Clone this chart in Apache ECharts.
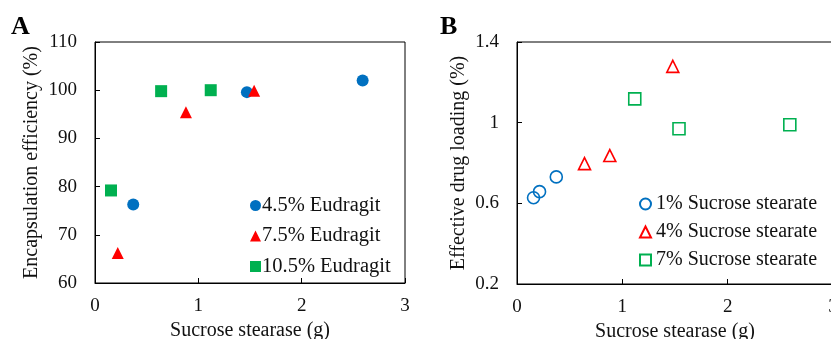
<!DOCTYPE html>
<html>
<head>
<meta charset="utf-8">
<script src="https://cdn.jsdelivr.net/npm/echarts@6/dist/echarts.min.js"></script>
<style>
html,body{margin:0;padding:0;background:#fff;}
#chart{width:831px;height:339px;}
</style>
</head>
<body>
<div id="chart"></div>
<script>
// Panel A: Encapsulation efficiency (%) vs sucrose stearase (g)
const seriesNamesA = ['4.5% Eudragit', '7.5% Eudragit', '10.5% Eudragit'];
const eud45 = [[0.37, 76.3], [1.47, 99.6], [2.59, 102.0]];
const eud75 = [[0.22, 66.2], [0.88, 95.4], [1.54, 99.9]];
const eud105 = [[0.155, 79.2], [0.64, 99.8], [1.12, 100.0]];

// Panel B: Effective drug loading (%) vs sucrose stearase (g)
const seriesNamesB = ['1% Sucrose stearate', '4% Sucrose stearate', '7% Sucrose stearate'];
const suc1 = [[0.157, 0.628], [0.214, 0.658], [0.373, 0.731]];
const suc4 = [[0.641, 0.797], [0.881, 0.837], [1.479, 1.279]];
const suc7 = [[1.118, 1.118], [1.538, 0.970], [2.59, 0.990]];

const xTitle = 'Sucrose stearase (g)';
const yTitleA = 'Encapsulation efficiency (%)';
const yTitleB = 'Effective drug loading (%)';

const BLUE = '#0070C0', RED = '#FF0000', GREEN = '#00B050';
const FONT = '"Liberation Serif", "Times New Roman", serif';
const TXT = '#111';

function xAxis(gridIndex) {
  return {
    type: 'value', gridIndex, min: 0, max: 3, interval: 1,
    name: xTitle, nameLocation: 'middle', nameGap: 33,
    nameTextStyle: {fontFamily: FONT, fontSize: 20, color: TXT},
    axisLine: {show: true, lineStyle: {color: '#000', width: 1}},
    axisTick: {show: true, inside: true, length: 5, lineStyle: {color: '#000'}},
    axisLabel: {fontFamily: FONT, fontSize: 19, color: TXT, margin: 14},
    splitLine: {show: false}
  };
}
function yAxis(gridIndex, min, max, interval, name, gap) {
  return {
    type: 'value', gridIndex, min, max, interval,
    name, nameLocation: 'middle', nameGap: gap,
    nameTextStyle: {fontFamily: FONT, fontSize: 20, color: TXT},
    axisLine: {show: true, lineStyle: {color: '#000', width: 1}},
    axisTick: {show: true, inside: true, length: 5, lineStyle: {color: '#000'}},
    axisLabel: {fontFamily: FONT, fontSize: 19, color: TXT, margin: 18},
    splitLine: {show: false}
  };
}

const chart = echarts.init(document.getElementById('chart'), null, {renderer: 'canvas'});
chart.setOption({
  backgroundColor: '#fff',
  animation: false,
  title: [
    {text: 'A', left: 11, top: 14, padding: 0, textStyle: {fontFamily: FONT, fontSize: 26, fontWeight: 'bold', color: '#000'}},
    {text: 'B', left: 440, top: 14, padding: 0, textStyle: {fontFamily: FONT, fontSize: 26, fontWeight: 'bold', color: '#000'}}
  ],
  grid: [
    {left: 95, top: 42, right: 426, bottom: 56, show: true, borderColor: '#000', borderWidth: 1, containLabel: false, outerBoundsMode: 'none'},
    {left: 517, top: 42, right: -2, bottom: 55, show: true, borderColor: '#000', borderWidth: 1, containLabel: false, outerBoundsMode: 'none'}
  ],
  xAxis: [xAxis(0), xAxis(1)],
  yAxis: [
    yAxis(0, 60, 110, 10, yTitleA, 53),
    yAxis(1, 0.2, 1.4, 0.4, yTitleB, 48)
  ],
  legend: [
    {
      data: seriesNamesA, orient: 'vertical', left: 245, top: 190, itemGap: 9.5,
      itemWidth: 11, itemHeight: 11,
      textStyle: {fontFamily: FONT, fontSize: 20.5, color: TXT, padding: [0, 0, 0, -4]}
    },
    {
      data: seriesNamesB, orient: 'vertical', left: 634, top: 189, itemGap: 8,
      itemWidth: 11, itemHeight: 11,
      textStyle: {fontFamily: FONT, fontSize: 20, color: TXT}
    }
  ],
  series: [
    {name: seriesNamesA[0], type: 'scatter', xAxisIndex: 0, yAxisIndex: 0, symbol: 'circle', symbolSize: 12, itemStyle: {color: BLUE, opacity: 1}, data: eud45},
    {name: seriesNamesA[1], type: 'scatter', xAxisIndex: 0, yAxisIndex: 0, symbol: 'triangle', symbolSize: 12, itemStyle: {color: RED, opacity: 1}, data: eud75},
    {name: seriesNamesA[2], type: 'scatter', xAxisIndex: 0, yAxisIndex: 0, symbol: 'rect', symbolSize: 12, itemStyle: {color: GREEN, opacity: 1}, data: eud105},
    {name: seriesNamesB[0], type: 'scatter', xAxisIndex: 1, yAxisIndex: 1, symbol: 'circle', symbolSize: 12, itemStyle: {color: 'rgba(255,255,255,0)', borderColor: BLUE, borderWidth: 1.6, opacity: 1}, data: suc1},
    {name: seriesNamesB[1], type: 'scatter', xAxisIndex: 1, yAxisIndex: 1, symbol: 'triangle', symbolSize: 12, itemStyle: {color: 'rgba(255,255,255,0)', borderColor: RED, borderWidth: 1.6, opacity: 1}, data: suc4},
    {name: seriesNamesB[2], type: 'scatter', xAxisIndex: 1, yAxisIndex: 1, symbol: 'rect', symbolSize: 12, itemStyle: {color: 'rgba(255,255,255,0)', borderColor: GREEN, borderWidth: 1.6, opacity: 1}, data: suc7}
  ]
});
</script>
</body>
</html>
